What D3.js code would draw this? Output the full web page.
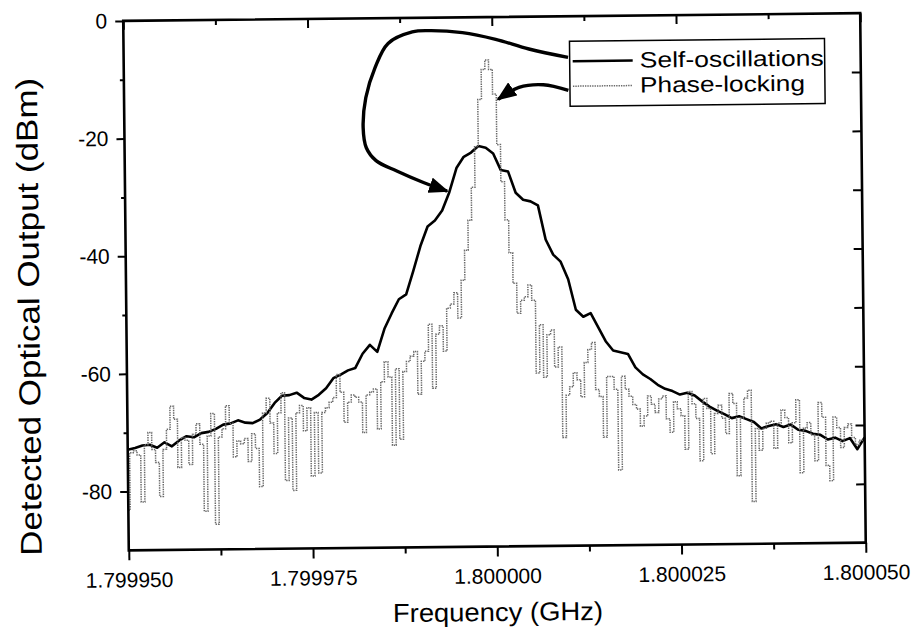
<!DOCTYPE html>
<html>
<head>
<meta charset="utf-8">
<script src="https://cdn.jsdelivr.net/npm/d3@7"></script>
<style>
body { margin: 0; background: #fff; }
svg { display: block; font-family: "Liberation Sans", Arial, sans-serif; }
</style>
</head>
<body>
<svg id="viz"></svg>
<script>
var width = 915;
var height = 641;

// sweep settings of the analyzer: centre 1.8 GHz, 100 kHz span
var centerGHz = 1.8;
var spanKHz = 100;

var xTicks = [1.79995, 1.799975, 1.8, 1.800025, 1.80005];
var xMinorTicks = [1.7999625, 1.7999875, 1.8000125, 1.8000375];
var yTicks = [0, -20, -40, -60, -80];
var yMinorTicks = [-10, -30, -50, -70];
var yRightTicks = [-10, -20, -30, -40, -50, -60, -70, -80];

var seriesNames = ["Self-oscillations", "Phase-locking"];

// dBm (101 sweep points)
var selfOsc = [
	-72.9,-72.6,-72.2,-72.1,-72.6,-71.7,-72.4,-71.4,-70.7,-70.9,
	-70.2,-70.0,-69.5,-68.8,-68.6,-68.1,-68.5,-68.6,-68.0,-66.9,
	-65.2,-64.0,-63.9,-63.5,-64.4,-64.7,-63.9,-62.8,-61.1,-60.5,
	-59.8,-59.4,-57.0,-55.5,-56.7,-52.8,-50.2,-47.8,-47.0,-43.0,
	-38.8,-35.5,-34.5,-32.8,-29.7,-25.6,-23.7,-23.0,-21.9,-22.2,
	-23.2,-26.0,-26.3,-29.9,-31.1,-31.4,-32.1,-37.9,-40.5,-41.7,
	-44.7,-49.9,-51.1,-50.5,-52.9,-55.3,-56.9,-57.2,-57.5,-59.8,
	-61.0,-61.8,-62.8,-63.5,-63.9,-64.5,-64.2,-64.7,-65.7,-66.6,
	-67.3,-67.9,-68.6,-68.3,-68.8,-69.3,-70.4,-70.0,-69.7,-70.2,
	-69.8,-70.7,-70.9,-71.4,-71.6,-72.4,-72.1,-72.7,-72.2,-74.1,
	-72.1
];

// dBm (200 sweep points)
var phaseLock = [
	-83.2,-73.4,-73.1,-73.8,-81.8,-72.1,-70.0,-72.9,-75.1,-80.9,
	-72.9,-69.5,-65.6,-67.8,-76.0,-70.9,-71.4,-75.5,-70.4,-68.6,
	-72.1,-83.5,-70.7,-66.9,-85.7,-70.9,-69.5,-65.6,-68.6,-74.3,
	-71.6,-72.1,-71.2,-75.1,-70.4,-72.9,-79.4,-66.9,-64.4,-68.6,
	-73.8,-66.9,-63.5,-78.4,-67.8,-80.1,-66.9,-65.7,-70.0,-66.1,
	-77.7,-66.9,-77.2,-66.9,-66.1,-65.2,-64.4,-60.5,-63.5,-68.6,
	-65.2,-64.0,-64.4,-65.2,-70.4,-64.0,-63.5,-63.0,-69.8,-61.8,
	-58.4,-61.0,-72.6,-59.6,-71.6,-60.1,-58.4,-57.5,-56.7,-64.0,
	-58.4,-56.7,-52.1,-63.0,-53.8,-52.4,-56.7,-49.4,-48.7,-46.8,
	-51.1,-44.7,-39.6,-34.5,-28.9,-22.0,-14.0,-8.9,-7.3,-8.9,
	-13.1,-21.7,-28.0,-34.5,-40.1,-45.3,-50.4,-48.2,-47.6,-45.6,
	-48.2,-60.6,-52.4,-61.3,-54.1,-53.3,-59.6,-56.2,-71.6,-64.4,
	-63.0,-60.6,-61.8,-64.7,-58.9,-56.7,-55.5,-63.5,-64.7,-71.6,
	-61.3,-61.3,-63.5,-77.2,-61.3,-63.5,-64.7,-66.1,-66.9,-69.8,
	-68.1,-64.7,-66.1,-67.5,-65.2,-64.7,-68.6,-70.9,-65.7,-66.9,
	-68.1,-73.8,-64.0,-66.1,-68.6,-75.8,-65.2,-66.9,-74.6,-67.8,
	-66.4,-68.6,-71.2,-64.4,-66.1,-78.4,-68.6,-65.2,-63.9,-82.8,
	-70.4,-74.1,-70.4,-69.5,-69.2,-73.8,-69.5,-67.3,-68.6,-72.9,
	-69.5,-65.6,-78.0,-70.4,-69.5,-71.6,-76.0,-66.1,-68.6,-76.8,
	-79.4,-68.6,-70.4,-73.8,-70.4,-69.8,-72.1,-73.3,-72.6,-72.6
];

// annotation arrows, [kHz offset from centre, dBm]
var arrowSelf = [[10.3,-7.0],[5.0,-5.5],[0.5,-3.8],[-4.0,-2.6],[-8.6,-2.2],[-10.8,-2.4],
	[-14.1,-4.3],[-15.9,-8.4],[-17.2,-13.5],[-17.6,-18.6],[-17.2,-22.0],[-15.9,-24.2],
	[-13.1,-26.0],[-9.5,-28.0],[-6.3,-29.5]];
var arrowLock = [[10.3,-12.6],[6.9,-11.6],[3.6,-12.0],[0.75,-14.0]];

function sweep(values){
	let n = values.length;
	return values.map((v, i) => ({f: centerGHz + (spanKHz*(i/(n-1) - 0.5))*1e-6, v: v}));
}

var svg = d3.select("#viz")
	.attr("width", width)
	.attr("height", height)
	.style("background", "#fff");

var defs = svg.append("defs");
defs.append("marker")
	.attr("id", "head")
	.attr("viewBox", "0 0 10 10")
	.attr("refX", 9)
	.attr("refY", 5)
	.attr("markerWidth", 20)
	.attr("markerHeight", 16)
	.attr("markerUnits", "userSpaceOnUse")
	.attr("preserveAspectRatio", "none")
	.attr("orient", "auto")
	.append("path")
	.attr("d", "M0,0 L10,5 L0,10 z")
	.style("fill", "#000");

// the scan is tilted a little
var g = svg.append("g").attr("transform", "rotate(-0.6, 496, 283)");

var x = d3.scaleLinear().domain([1.79995, 1.80005]).range([126, 863]);
var y = d3.scaleLinear().domain([-90, 0]).range([546.5, 17]);

var line = d3.line()
	.x(d => x(d.f))
	.y(d => y(d.v));

g.append("path")
	.datum(sweep(selfOsc))
	.attr("d", line.curve(d3.curveLinear))
	.style("fill", "none")
	.style("stroke", "#000")
	.style("stroke-width", 2.6)
	.style("stroke-linejoin", "round");

g.append("path")
	.datum(sweep(phaseLock))
	.attr("d", line.curve(d3.curveStep))
	.style("fill", "none")
	.style("stroke", "#6a6a6a")
	.style("stroke-width", 1.5)
	.style("stroke-dasharray", "1.4,1");

// frame
g.append("rect")
	.attr("x", x.range()[0])
	.attr("y", y.range()[1])
	.attr("width", x.range()[1] - x.range()[0])
	.attr("height", y.range()[0] - y.range()[1])
	.style("fill", "none")
	.style("stroke", "#000")
	.style("stroke-width", 2.6);

function drawAxis(axis, tx, ty){
	let a = g.append("g")
		.attr("transform", "translate(" + tx + "," + ty + ")")
		.call(axis);
	a.select(".domain").remove();
	a.selectAll("line").style("stroke", "#000").style("stroke-width", 2);
	a.selectAll("text").style("font-family", "'Liberation Sans', Arial, sans-serif").style("fill", "#000");
	return a;
}

var fmt = d3.format(".6f");

var bottom = drawAxis(d3.axisBottom(x).tickValues(xTicks).tickFormat(fmt).tickSize(10).tickPadding(8), 0, y.range()[0]);
bottom.selectAll("text").style("font-size", "21px").attr("dy", "0.9em");
drawAxis(d3.axisBottom(x).tickValues(xMinorTicks).tickFormat("").tickSize(6), 0, y.range()[0]);
drawAxis(d3.axisTop(x).tickValues(xTicks).tickFormat("").tickSize(-9), 0, y.range()[1]);
drawAxis(d3.axisTop(x).tickValues(xMinorTicks).tickFormat("").tickSize(-5), 0, y.range()[1]);

var left = drawAxis(d3.axisLeft(y).tickValues(yTicks).tickFormat(d => d).tickSize(8).tickPadding(8), x.range()[0], 0);
left.selectAll("text").style("font-size", "21px");
drawAxis(d3.axisLeft(y).tickValues(yMinorTicks).tickFormat("").tickSize(4), x.range()[0], 0);
drawAxis(d3.axisRight(y).tickValues(yRightTicks).tickFormat("").tickSize(-9), x.range()[1], 0);

// axis titles
g.append("text")
	.attr("x", (x.range()[0] + x.range()[1]) / 2)
	.attr("y", 621)
	.attr("text-anchor", "middle")
	.attr("textLength", 210)
	.attr("lengthAdjust", "spacingAndGlyphs")
	.style("font-size", "26px")
	.text("Frequency (GHz)");

g.append("text")
	.attr("transform", "translate(39," + 312 + ") rotate(-90)")
	.attr("text-anchor", "middle")
	.attr("textLength", 478)
	.attr("lengthAdjust", "spacingAndGlyphs")
	.style("font-size", "30px")
	.text("Detected Optical Output (dBm)");

// arrows from legend to traces
var arrowLine = d3.line()
	.x(d => x(centerGHz + d[0]*1e-6))
	.y(d => y(d[1]))
	.curve(d3.curveCatmullRom.alpha(0.5));

[arrowSelf, arrowLock].forEach(pts => {
	g.append("path")
		.attr("d", arrowLine(pts))
		.style("fill", "none")
		.style("stroke", "#000")
		.style("stroke-width", 3.4)
		.attr("marker-end", "url(#head)");
});

// legend
var legend = g.append("g").attr("transform", "translate(572,42)");
legend.append("rect")
	.attr("width", 255)
	.attr("height", 65)
	.style("fill", "#fff")
	.style("stroke", "#000")
	.style("stroke-width", 1.5);

var legendStyles = [
	{stroke: "#000", width: 2.6, dash: null, len: 184},
	{stroke: "#6a6a6a", width: 1.5, dash: "1.4,1", len: 165}
];

seriesNames.forEach((name, i) => {
	let row = legend.append("g").attr("transform", "translate(0," + (20 + i*25) + ")");
	row.append("line")
		.attr("x1", 3).attr("x2", 63)
		.style("stroke", legendStyles[i].stroke)
		.style("stroke-width", legendStyles[i].width)
		.style("stroke-dasharray", legendStyles[i].dash);
	row.append("text")
		.attr("x", 70)
		.attr("y", 7)
		.attr("textLength", legendStyles[i].len)
		.attr("lengthAdjust", "spacingAndGlyphs")
		.style("font-size", "22px")
		.text(name);
});
</script>
</body>
</html>
